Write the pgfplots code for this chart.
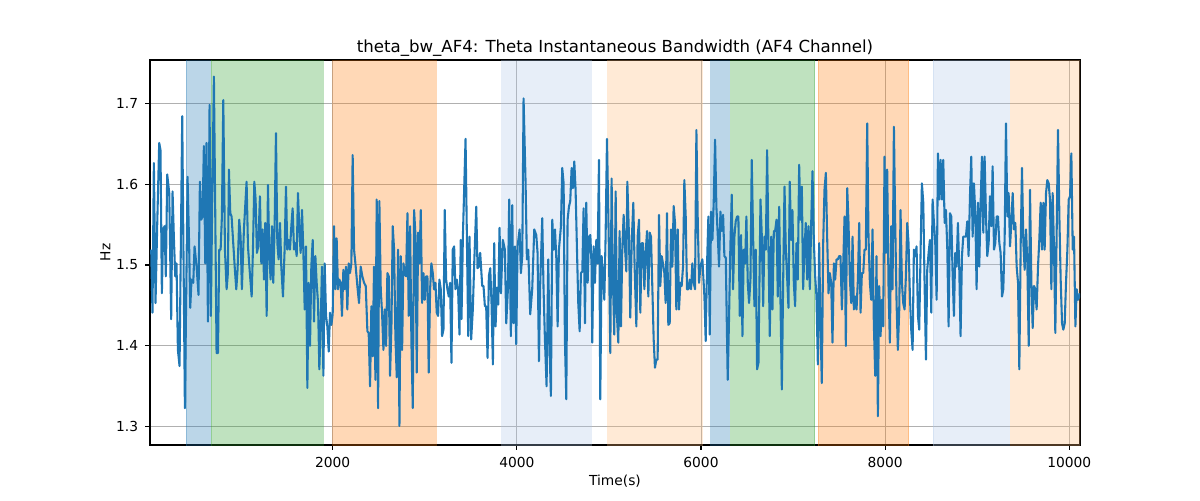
\documentclass[border=0pt]{standalone}
\usepackage{pgfplots}
\pgfplotsset{compat=1.18}
\usepackage{pgfplotstable}
\usepackage{fontspec}
\setmainfont{DejaVu Sans}
\definecolor{tabblue}{HTML}{1F77B4}
\definecolor{tabgreen}{HTML}{2CA02C}
\definecolor{taborange}{HTML}{FF7F0E}
\definecolor{ltblue}{HTML}{AEC7E8}
\definecolor{ltorange}{HTML}{FFBB78}
\pgfplotstableread{
t v
29 1.519
43 1.441
58 1.626
76 1.453
94 1.548
116 1.651
130 1.642
145 1.465
159 1.544
174 1.548
188 1.486
203 1.612
225 1.589
246 1.433
261 1.591
275 1.535
290 1.486
304 1.502
319 1.395
337 1.375
366 1.684
395 1.323
424 1.609
442 1.519
453 1.447
467 1.482
486 1.478
500 1.523
522 1.498
543 1.463
558 1.603
572 1.556
587 1.560
601 1.647
616 1.502
630 1.651
645 1.430
663 1.698
677 1.437
692 1.581
710 1.733
725 1.560
739 1.391
754 1.391
768 1.519
783 1.519
797 1.560
812 1.704
830 1.519
848 1.470
862 1.490
873 1.618
888 1.564
902 1.560
920 1.527
938 1.494
953 1.470
967 1.494
985 1.556
1000 1.535
1014 1.470
1036 1.544
1065 1.603
1080 1.523
1098 1.494
1120 1.461
1134 1.519
1149 1.603
1163 1.581
1177 1.515
1192 1.523
1210 1.585
1225 1.502
1239 1.544
1254 1.482
1268 1.552
1283 1.437
1297 1.599
1312 1.511
1326 1.482
1341 1.548
1355 1.478
1370 1.552
1384 1.663
1399 1.527
1413 1.507
1428 1.552
1442 1.498
1460 1.461
1478 1.519
1493 1.597
1507 1.519
1522 1.531
1536 1.519
1551 1.548
1565 1.570
1580 1.519
1594 1.527
1609 1.511
1623 1.589
1638 1.544
1652 1.515
1667 1.568
1681 1.519
1696 1.445
1710 1.523
1725 1.348
1739 1.478
1754 1.400
1768 1.498
1783 1.531
1797 1.430
1812 1.511
1826 1.478
1841 1.453
1855 1.371
1870 1.428
1884 1.498
1899 1.363
1913 1.502
1928 1.437
1942 1.424
1957 1.393
1971 1.441
1986 1.426
2000 1.439
2014 1.548
2029 1.470
2043 1.533
2058 1.470
2072 1.482
2087 1.478
2101 1.437
2116 1.494
2130 1.470
2145 1.498
2159 1.445
2174 1.502
2188 1.490
2203 1.502
2217 1.636
2232 1.519
2250 1.498
2268 1.474
2286 1.453
2304 1.498
2322 1.486
2341 1.478
2359 1.474
2377 1.418
2391 1.416
2406 1.350
2420 1.449
2435 1.387
2449 1.498
2464 1.358
2478 1.581
2493 1.323
2507 1.579
2522 1.470
2536 1.441
2551 1.395
2565 1.445
2580 1.400
2594 1.490
2609 1.486
2623 1.363
2638 1.424
2652 1.548
2667 1.519
2681 1.412
2696 1.361
2710 1.519
2725 1.301
2739 1.511
2754 1.395
2768 1.502
2783 1.490
2797 1.486
2812 1.564
2826 1.437
2841 1.548
2855 1.404
2870 1.323
2884 1.568
2899 1.537
2913 1.367
2928 1.540
2942 1.502
2957 1.568
2971 1.453
2986 1.490
3000 1.457
3014 1.486
3029 1.486
3043 1.367
3058 1.470
3072 1.502
3087 1.490
3101 1.470
3116 1.478
3130 1.441
3145 1.437
3159 1.482
3174 1.470
3188 1.412
3203 1.420
3217 1.568
3232 1.482
3246 1.470
3261 1.461
3275 1.478
3290 1.379
3304 1.519
3319 1.523
3333 1.470
3348 1.482
3362 1.470
3377 1.414
3391 1.531
3399 1.433
3414 1.535
3443 1.656
3472 1.412
3486 1.535
3504 1.408
3522 1.445
3537 1.502
3559 1.572
3573 1.496
3588 1.498
3602 1.515
3624 1.474
3638 1.474
3653 1.449
3667 1.449
3682 1.385
3696 1.486
3711 1.496
3725 1.453
3740 1.377
3754 1.527
3769 1.424
3783 1.472
3798 1.451
3812 1.546
3827 1.465
3848 1.531
3870 1.519
3885 1.428
3903 1.470
3917 1.581
3935 1.412
3950 1.574
3964 1.428
3979 1.523
3993 1.402
4008 1.523
4030 1.544
4044 1.490
4059 1.511
4073 1.706
4095 1.601
4109 1.507
4124 1.519
4145 1.439
4167 1.470
4189 1.544
4211 1.537
4225 1.515
4240 1.381
4254 1.478
4276 1.558
4290 1.470
4305 1.408
4323 1.350
4341 1.507
4356 1.395
4370 1.338
4385 1.556
4399 1.519
4414 1.544
4428 1.511
4443 1.424
4457 1.519
4479 1.548
4493 1.620
4508 1.601
4522 1.408
4537 1.334
4551 1.556
4566 1.572
4580 1.579
4595 1.620
4609 1.595
4624 1.628
4638 1.593
4653 1.519
4667 1.453
4682 1.418
4696 1.490
4711 1.492
4725 1.570
4740 1.428
4754 1.577
4769 1.478
4783 1.535
4798 1.537
4812 1.498
4819 1.404
4834 1.523
4848 1.478
4863 1.531
4877 1.502
4892 1.630
4906 1.334
4921 1.511
4935 1.490
4950 1.457
4964 1.535
4979 1.656
5000 1.519
5015 1.391
5029 1.607
5044 1.478
5058 1.414
5073 1.591
5087 1.437
5102 1.404
5116 1.542
5131 1.424
5145 1.519
5160 1.562
5174 1.523
5189 1.492
5200 1.603
5218 1.535
5232 1.435
5247 1.527
5265 1.577
5279 1.498
5298 1.424
5312 1.535
5327 1.556
5341 1.441
5356 1.527
5370 1.527
5385 1.470
5399 1.515
5414 1.542
5428 1.461
5443 1.540
5457 1.535
5472 1.470
5486 1.408
5500 1.373
5515 1.383
5529 1.383
5544 1.562
5558 1.474
5573 1.511
5587 1.502
5602 1.490
5616 1.453
5631 1.564
5645 1.426
5660 1.428
5674 1.544
5689 1.498
5703 1.573
5718 1.552
5732 1.445
5747 1.544
5761 1.445
5776 1.478
5790 1.474
5805 1.498
5819 1.605
5834 1.560
5848 1.470
5863 1.470
5877 1.482
5892 1.470
5906 1.502
5921 1.478
5935 1.470
5950 1.667
5964 1.560
5979 1.478
5993 1.498
6015 1.507
6037 1.461
6051 1.406
6066 1.502
6080 1.560
6095 1.414
6109 1.566
6124 1.531
6138 1.577
6153 1.655
6167 1.572
6182 1.537
6196 1.498
6211 1.566
6225 1.542
6240 1.562
6254 1.511
6269 1.509
6290 1.358
6305 1.437
6319 1.523
6334 1.587
6348 1.470
6363 1.535
6377 1.554
6392 1.560
6406 1.560
6421 1.437
6435 1.537
6450 1.412
6464 1.519
6479 1.502
6493 1.560
6508 1.478
6522 1.453
6537 1.482
6551 1.630
6566 1.535
6580 1.449
6595 1.519
6609 1.371
6624 1.379
6646 1.581
6660 1.537
6675 1.449
6689 1.535
6704 1.519
6718 1.642
6733 1.519
6747 1.412
6762 1.535
6776 1.445
6791 1.542
6805 1.542
6820 1.556
6834 1.461
6849 1.572
6863 1.457
6878 1.346
6892 1.478
6907 1.597
6921 1.519
6935 1.486
6950 1.447
6964 1.603
6979 1.531
6993 1.568
7008 1.478
7022 1.449
7037 1.527
7051 1.482
7066 1.624
7080 1.556
7095 1.597
7109 1.470
7124 1.519
7138 1.552
7153 1.482
7167 1.548
7182 1.470
7196 1.548
7211 1.616
7225 1.531
7240 1.486
7254 1.461
7269 1.377
7283 1.527
7298 1.424
7312 1.354
7327 1.527
7341 1.593
7356 1.614
7370 1.535
7385 1.465
7399 1.490
7414 1.478
7428 1.404
7443 1.502
7457 1.482
7472 1.507
7486 1.507
7501 1.511
7515 1.511
7530 1.445
7544 1.498
7559 1.560
7573 1.400
7588 1.595
7602 1.552
7617 1.482
7631 1.453
7646 1.535
7660 1.445
7675 1.461
7689 1.445
7704 1.482
7718 1.552
7733 1.441
7747 1.490
7762 1.490
7776 1.519
7790 1.519
7805 1.675
7819 1.535
7834 1.478
7848 1.457
7863 1.544
7877 1.428
7892 1.363
7906 1.511
7921 1.313
7935 1.474
7950 1.412
7964 1.457
7979 1.424
7993 1.634
8008 1.515
8022 1.618
8037 1.470
8051 1.404
8066 1.548
8080 1.470
8095 1.671
8109 1.552
8124 1.453
8138 1.395
8153 1.445
8167 1.568
8182 1.478
8196 1.453
8211 1.445
8225 1.486
8240 1.552
8254 1.527
8269 1.461
8283 1.420
8298 1.395
8312 1.519
8327 1.511
8341 1.523
8356 1.437
8370 1.420
8385 1.519
8399 1.601
8414 1.577
8428 1.478
8443 1.383
8457 1.494
8472 1.515
8486 1.531
8501 1.441
8515 1.581
8530 1.552
8544 1.527
8559 1.457
8573 1.638
8588 1.581
8602 1.630
8617 1.581
8631 1.630
8646 1.552
8660 1.568
8675 1.519
8689 1.424
8704 1.564
8718 1.560
8733 1.486
8747 1.437
8761 1.515
8776 1.498
8790 1.552
8805 1.494
8819 1.412
8834 1.511
8848 1.535
8863 1.535
8877 1.535
8892 1.554
8906 1.511
8921 1.585
8935 1.634
8950 1.535
8964 1.601
8979 1.564
8993 1.470
9008 1.577
9022 1.498
9037 1.577
9051 1.634
9066 1.540
9080 1.634
9095 1.560
9109 1.511
9124 1.527
9138 1.585
9153 1.548
9167 1.622
9182 1.519
9196 1.527
9211 1.560
9225 1.560
9240 1.527
9254 1.515
9269 1.461
9283 1.470
9298 1.535
9312 1.675
9327 1.560
9341 1.589
9356 1.523
9370 1.552
9385 1.589
9399 1.544
9414 1.552
9428 1.498
9443 1.478
9457 1.371
9472 1.527
9486 1.620
9501 1.527
9515 1.494
9530 1.544
9544 1.502
9559 1.400
9573 1.593
9588 1.478
9602 1.422
9617 1.474
9631 1.470
9645 1.445
9660 1.498
9674 1.531
9689 1.577
9703 1.519
9718 1.577
9732 1.519
9747 1.589
9761 1.605
9776 1.601
9790 1.581
9805 1.470
9819 1.589
9834 1.519
9848 1.416
9863 1.544
9877 1.667
9892 1.560
9906 1.482
9921 1.428
9935 1.420
9950 1.428
9964 1.478
9979 1.519
9993 1.581
10008 1.585
10022 1.638
10037 1.519
10051 1.535
10066 1.424
10080 1.470
10095 1.457
10109 1.461
10116 1.465
}\datatable
\begin{document}
\begin{tikzpicture}[x=1pt,y=1pt]
\path[use as bounding box] (-75pt,-27.5pt) rectangle (525pt,222.5pt);
\begin{axis}[
  at={(0,0)}, anchor=south west,
  scale only axis, width=465pt, height=192.5pt,
  xmin=16, xmax=10116, ymin=1.2774, ymax=1.7535,
  xtick={2000,4000,6000,8000,10000},
  ytick={1.3,1.4,1.5,1.6,1.7},
  scaled x ticks=false,
  /pgf/number format/1000 sep={},
  /pgf/number format/assume math mode=true,
  yticklabel style={/pgf/number format/fixed,/pgf/number format/precision=1,/pgf/number format/fixed zerofill},
  tick label style={font=\fontsize{6.9}{8}\selectfont},
  label style={font=\fontsize{6.9}{8}\selectfont},
  title style={font=\fontsize{8.3}{10}\selectfont, yshift=-7.5pt},
  title={theta\_bw\_AF4: Theta Instantaneous Bandwidth (AF4 Channel)},
  xlabel={Time(s)}, ylabel={Hz},
  xlabel style={yshift=3pt}, ylabel style={yshift=-4pt},
  grid=major, major grid style={color=black!31, line width=0.5pt},
  tick align=outside, tickpos=left,
  major tick length=2.4pt,
  every tick/.style={black, line width=0.55pt},
  axis line style={line width=0.55pt},
]
\addplot[fill=tabblue, fill opacity=0.3, draw=tabblue, draw opacity=0.3] coordinates {(410,1.2) (671,1.2) (671,1.8) (410,1.8)} --cycle;
\addplot[fill=tabgreen, fill opacity=0.3, draw=tabgreen, draw opacity=0.3] coordinates {(682,1.2) (1896,1.2) (1896,1.8) (682,1.8)} --cycle;
\addplot[fill=taborange, fill opacity=0.3, draw=taborange, draw opacity=0.3] coordinates {(2000,1.2) (3124,1.2) (3124,1.8) (2000,1.8)} --cycle;
\addplot[fill=ltblue, fill opacity=0.3, draw=ltblue, draw opacity=0.3] coordinates {(3834,1.2) (4808,1.2) (4808,1.8) (3834,1.8)} --cycle;
\addplot[fill=ltorange, fill opacity=0.3, draw=ltorange, draw opacity=0.3] coordinates {(4986,1.2) (6014,1.2) (6014,1.8) (4986,1.8)} --cycle;
\addplot[fill=tabblue, fill opacity=0.3, draw=tabblue, draw opacity=0.3] coordinates {(6105,1.2) (6305,1.2) (6305,1.8) (6105,1.8)} --cycle;
\addplot[fill=tabgreen, fill opacity=0.3, draw=tabgreen, draw opacity=0.3] coordinates {(6323,1.2) (7236,1.2) (7236,1.8) (6323,1.8)} --cycle;
\addplot[fill=taborange, fill opacity=0.3, draw=taborange, draw opacity=0.3] coordinates {(7275,1.2) (8254,1.2) (8254,1.8) (7275,1.8)} --cycle;
\addplot[fill=ltblue, fill opacity=0.3, draw=ltblue, draw opacity=0.3] coordinates {(8522,1.2) (9345,1.2) (9345,1.8) (8522,1.8)} --cycle;
\addplot[fill=ltorange, fill opacity=0.3, draw=ltorange, draw opacity=0.3] coordinates {(9363,1.2) (10200,1.2) (10200,1.8) (9363,1.8)} --cycle;
\addplot[color=tabblue, line width=1.04pt, no markers, line join=round] table[x=t,y=v] {\datatable};
\end{axis}
\end{tikzpicture}
\end{document}
